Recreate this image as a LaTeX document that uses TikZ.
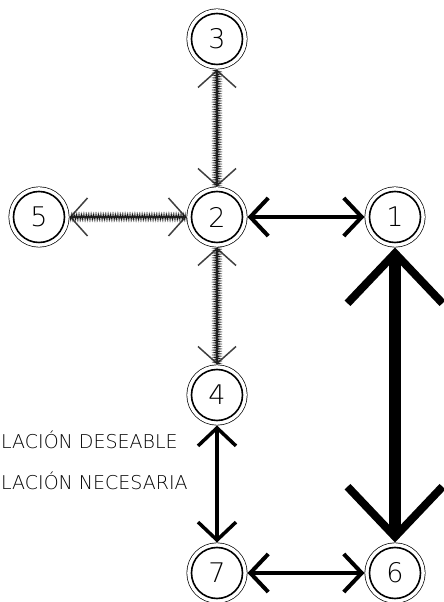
\documentclass[tikz,border=0pt]{standalone}
\usepackage{fontspec}
\setmainfont{DejaVu Sans}[UprightFont=* ExtraLight]
\usetikzlibrary{arrows.meta,positioning,decorations.pathmorphing}
\tikzset{
  placenode/.style={circle,minimum size=51pt,inner sep=0pt,outer sep=5pt,
    fill=white,draw,line width=1.6pt,font=\fontsize{27}{27}\selectfont,
    preaction={draw,line width=10pt},preaction={draw=white,line width=8.6pt}},
  legendtext/.style={anchor=base west,inner sep=0pt,font=\fontsize{19}{19}\selectfont},
  needarrow/.style={draw=black,line width=4pt,
    {Straight Barb[length=18pt,width=38pt]}-{Straight Barb[length=18pt,width=38pt]}},
  hugeneed/.style={draw=black,line width=12pt,
    {Straight Barb[length=50pt,width=95pt,line width=8pt]}-{Straight Barb[length=50pt,width=95pt,line width=8pt]}},
  desirearrow/.style={draw=black!75,line width=1.5pt,
    {Straight Barb[length=17pt,width=38pt]}-{Straight Barb[length=17pt,width=38pt]},
    postaction={draw=black!90,-,line width=0.55pt,decorate,
      decoration={zigzag,segment length=1.7pt,amplitude=3.3pt}}}
}
\begin{document}
\begin{tikzpicture}[node distance=117pt]
  \useasboundingbox (0pt,0pt) rectangle (444pt,602pt);
  % places
  \node[placenode] (n2) at (217pt,385pt) {2};
  \node[placenode,above=of n2] (n3) {3};
  \node[placenode,left=of n2] (n5) {5};
  \node[placenode,right=of n2] (n1) {1};
  \node[placenode,below=of n2] (n4) {4};
  \node[placenode,below=of n4] (n7) {7};
  \node[placenode,right=of n7] (n6) {6};
  % relations
  \draw[needarrow] (n2) -- (n1);
  \draw[hugeneed] (n1) -- (n6);
  \draw[needarrow,line width=3.5pt] (n4) -- (n7);
  \draw[needarrow] (n7) -- (n6);
  \draw[desirearrow] (n2) -- (n3);
  \draw[desirearrow] (n2) -- (n5);
  \draw[desirearrow] (n2) -- (n4);
  % legend
  \node[legendtext] (desire) at (1pt,153pt) {LACIÓN DESEABLE};
  \node[legendtext] (need) at (1pt,112pt) {LACIÓN NECESARIA};
\end{tikzpicture}
\end{document}
